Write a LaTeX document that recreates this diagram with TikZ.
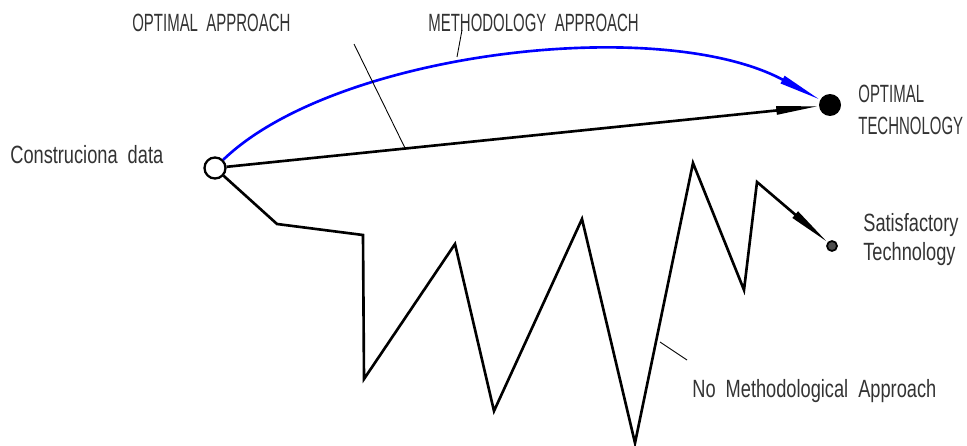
\documentclass[tikz,border=0pt]{standalone}
\usepackage{fontspec}
\newfontfamily\capsfont{Liberation Sans}[FakeStretch=0.6,WordSpace=2]
\newfontfamily\lowfont{Liberation Sans}[FakeStretch=0.73,WordSpace=2]
\usetikzlibrary{arrows.meta}

\begin{document}
\begin{tikzpicture}[x=0.02cm,y=-0.02cm,
    mainline/.style={line width=1.5pt},
    leaderline/.style={line width=0.5pt},
    cadarrow/.style={-{Triangle[length=0.85cm,width=0.16cm]}},
    caplabel/.style={inner sep=0pt,text=black!80,align=left,font=\capsfont\fontsize{14.2}{18}\selectfont},
    lowlabel/.style={inner sep=0pt,text=black!80,align=left,font=\lowfont\fontsize{14.2}{16.5}\selectfont}]
  \useasboundingbox (0,0) rectangle (967,446);
  % start and end points
  \node[circle,draw,line width=1.3pt,minimum size=0.42cm,inner sep=0pt] (src) at (215,168) {};
  \node[circle,fill=black,minimum size=0.44cm,inner sep=0pt] (opt) at (830,105) {};
  \node[circle,fill=black!70,draw=black,line width=1pt,minimum size=0.2cm,inner sep=0pt] (sat) at (832,246) {};
  % labels
  \node[lowlabel,anchor=base west] (srclbl) at (10,163) {Construciona data};
  \node[caplabel,anchor=base west] (optapp) at (132,32) {OPTIMAL APPROACH};
  \node[caplabel,anchor=base west] (methapp) at (428,32) {METHODOLOGY APPROACH};
  \node[caplabel,anchor=north west] (optlbl) at (858,85) {OPTIMAL\\TECHNOLOGY};
  \node[lowlabel,anchor=north west] (satlbl) at (863,213) {Satisfactory\\Technology};
  \node[lowlabel,anchor=base west] (noapp) at (692,397) {No Methodological Approach};
  % approaches
  \draw[mainline,draw=blue,cadarrow] (src.45) .. controls (335,52) and (660,14) .. (opt);
  \draw[mainline,cadarrow] (src) -- (opt);
  \foreach \x/\y [count=\i] in {277/224,363/235,364/379,455/244,494/411,582/219,635/443,693/163,744/290,757/182}
    \coordinate (z\i) at (\x,\y);
  \draw[mainline,cadarrow] (src) -- (z1) -- (z2) -- (z3) -- (z4) -- (z5) -- (z6) -- (z7) -- (z8) -- (z9) -- (z10) -- (sat);
  % leaders
  \coordinate (oa1) at (354,44);
  \coordinate (oa2) at (405,148);
  \coordinate (ma1) at (462,30);
  \coordinate (ma2) at (457,57);
  \coordinate (na1) at (687,360);
  \coordinate (na2) at (660,342);
  \draw[leaderline] (oa1) -- (oa2);
  \draw[leaderline] (ma1) -- (ma2);
  \draw[leaderline] (na1) -- (na2);
\end{tikzpicture}
\end{document}
